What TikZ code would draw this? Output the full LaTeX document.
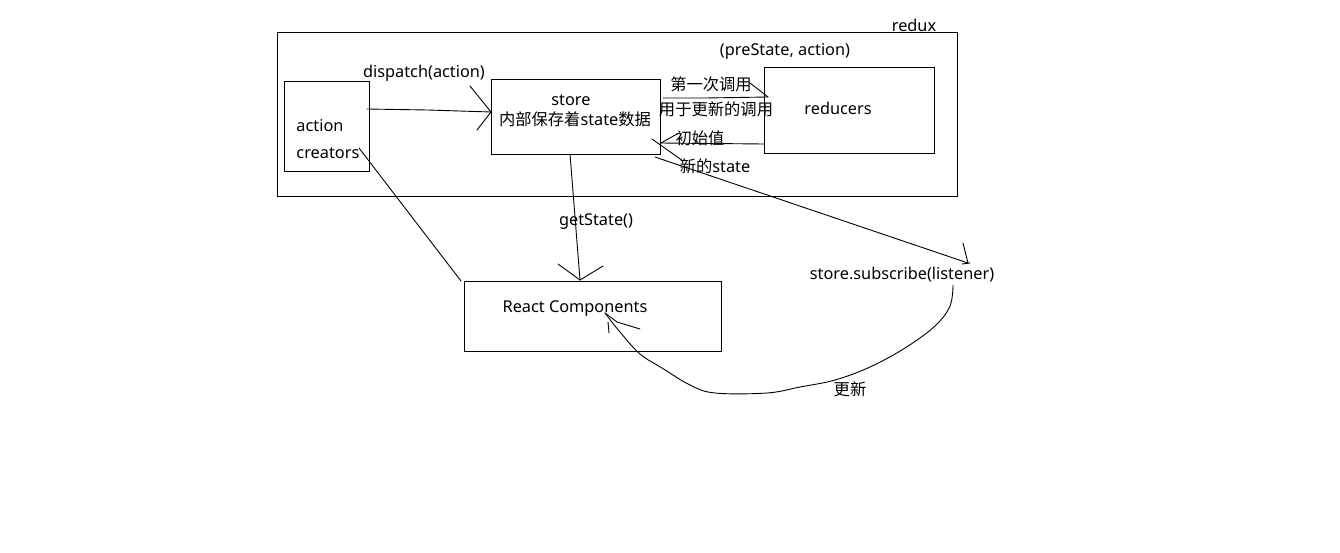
\documentclass[tikz,border=0pt]{standalone}
\usepackage{fontspec}
\usetikzlibrary{calc}
\setmainfont{Noto Sans}
\newfontfamily\cjk{Noto Sans CJK SC}
\begin{document}
\begin{tikzpicture}[x=1pt,y=-1pt,line width=0.9pt,
  box/.style={draw=black,line width=0.9pt,inner sep=0pt,minimum width=#1},
  lbl/.style={inner sep=0pt,yshift=-2pt,font=\fontsize{16.3}{19}\selectfont},
  wire/.style={draw=black,line width=0.9pt,line cap=round,line join=round}]
\useasboundingbox (0,0) rectangle (1340,552);
\fill[white] (0,0) rectangle (1340,552);
% boxes
\node[box=680pt,minimum height=164pt] (redux) at (617,114) {};
\node[box=85pt,minimum height=90pt] (ac) at (326.5,126) {};
\node[box=169pt,minimum height=75pt] (store) at (575.5,116.5) {};
\node[box=170pt,minimum height=86pt] (reducers) at (849,110) {};
\node[box=257pt,minimum height=70pt] (react) at (592.5,316) {};
% labels
\node[lbl] (lredux) at (914,23) {redux};
\node[lbl] (lpre) at (785,49) {(preState, action)};
\node[lbl] (ldisp) at (424,71) {dispatch(action)};
\node[lbl,anchor=west] (lact) at (296,124) {action};
\node[lbl,anchor=west] (lcre) at (296,151) {creators};
\node[lbl] (lstore) at (571,98) {store};
\node[lbl] (lstore2) at (575,117) {{\cjk 内部保存着}state{\cjk 数据}};
\node[lbl] (lfirst) at (711,82) {\cjk 第一次调用};
\node[lbl] (lupd) at (716,107) {\cjk 用于更新的调用};
\node[lbl] (lred) at (838,106) {reducers};
\node[lbl] (linit) at (700,136) {\cjk 初始值};
\node[lbl] (lnew) at (715,164) {{\cjk 新的}state};
\node[lbl] (lget) at (596,220) {getState()};
\node[lbl] (lsub) at (902,273) {store.subscribe(listener)};
\node[lbl] (lreact) at (575,307) {React Components};
\node[lbl] (lgx) at (850,387) {\cjk 更新};
% coordinates
\coordinate (dS) at (367,109);
\coordinate (dT) at (491,112);
\coordinate (fS) at (663,98);
\coordinate (fT) at (768,97);
\coordinate (iS) at (764,144);
\coordinate (iT) at (661,143);
\coordinate (sS) at (655,157);
\coordinate (sT) at (968,263);
\coordinate (gS) at (570,154);
\coordinate (gT) at (580,280);
\coordinate (cS) at (359,148);
\coordinate (cT) at (461,281);
\coordinate (uS) at (953,285);
\coordinate (uT) at (605,313);
% dispatch
\draw[wire] (dS) -- (428,110) -- (dT);
\draw[wire] (dT) -- ++(-21,-26);
\draw[wire] (dT) -- ++(-14,18);
% first call
\draw[wire] (fS) -- (705,98) -- (fT);
\draw[wire] (fT) -- ++(-18,-14);
% initial value
\draw[wire] (iS) -- (iT);
\draw[wire] (iT) -- ++(16,-9);
\draw[wire] (652,139) -- (683,161);
% subscribe
\draw[wire] (sS) -- (sT);
\draw[wire] (sT) -- ++(-5,-20);
\draw[wire] ($(sT)+(-6,1)$) -- ++(8,-1);
% getState
\draw[wire] (gS) -- (gT);
\draw[wire] (gT) -- ++(-22,-16);
\draw[wire] (gT) -- ++(23,-14);
% creators
\draw[wire] (cS) -- (cT);
% update curve
\draw[wire] plot[smooth,tension=0.6] coordinates {(uS) (950,306) (935,326) (905,348) (870,367) (835,380) (800,387) (767,393) (715,393) (690,385) (662,368) (640,354) (620,332) (uT)};
\draw[wire] (uT) -- (617,322) -- (640,329);
\draw[wire] (608,322) -- (609,333);
\end{tikzpicture}
\end{document}
